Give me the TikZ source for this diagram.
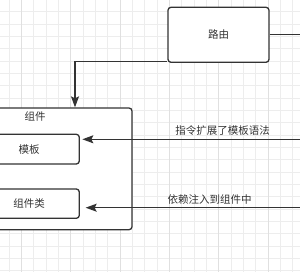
\documentclass[tikz,border=0pt]{standalone}
\usepackage{fontspec}
\setmainfont{Noto Sans CJK SC}
\usetikzlibrary{arrows.meta}
\definecolor{ink}{HTML}{333333}
\definecolor{gridc}{HTML}{EDEDED}
\definecolor{gridm}{HTML}{E0E0E0}
\tikzset{
  boxstyle/.style={draw=ink, line width=1.3pt, fill=white, rounded corners=3pt, inner sep=0pt},
  lbl/.style={text=ink, font=\fontsize{10.5}{12}\selectfont, inner sep=0pt},
  conn/.style={draw=ink, line width=1.3pt},
  arr/.style={conn, -{Stealth[length=11pt, width=8pt, inset=2pt]}},
}
\begin{document}
\begin{tikzpicture}[x=1pt, y=-1pt]
\useasboundingbox (0,0) rectangle (300,272);
\clip (0,0) rectangle (300,272);
\fill[white] (0,0) rectangle (300,272);
% grid
\foreach \k in {0,...,24} {
  \draw[gridc, line width=0.8pt] ({9+12.333*\k},0) -- ({9+12.333*\k},272);
}
\foreach \k in {-1,...,21} {
  \draw[gridc, line width=0.8pt] (0,{11.7+12.333*\k}) -- (300,{11.7+12.333*\k});
}
\foreach \k in {1,5,9,13,17,21} {
  \draw[gridm, line width=0.8pt] ({9+12.333*\k},0) -- ({9+12.333*\k},272);
}
% nodes
\node[boxstyle, minimum width=101pt, minimum height=55pt] (route) at (218.5,34.8) {};
\node[lbl] (routelbl) at (route.center) {路由};
\node[boxstyle, minimum width=194pt, minimum height=121.7pt] (comp) at (35,168.85) {};
\node[lbl] (complbl) at (35,117) {组件};
\node[boxstyle, minimum width=100.6pt, minimum height=29.7pt] (tmpl) at (29,149.15) {};
\node[lbl] at (tmpl.center) {模板};
\node[boxstyle, minimum width=100.6pt, minimum height=29.3pt] (cls) at (29,203.65) {};
\node[lbl] at (cls.center) {组件类};
% free ends
\coordinate (rr) at (310,34.8);
\coordinate (r1) at (310,139.3);
\coordinate (r2) at (310,207.7);
% connectors
\draw[conn] (route.east) -- (rr);
\draw[arr] ([yshift=1.3pt]route.south west) -| ([xshift=40pt]comp.north);
\draw[arr, shorten >=2.4pt] (r1) -- (tmpl.east |- r1);
\draw[arr, shorten >=5.7pt] (r2) -- (cls.east |- r2);
% labels
\node[lbl] (l1) at (222.5,131) {指令扩展了模板语法};
\node[lbl] (l2) at (209.5,200) {依赖注入到组件中};
\end{tikzpicture}
\end{document}
